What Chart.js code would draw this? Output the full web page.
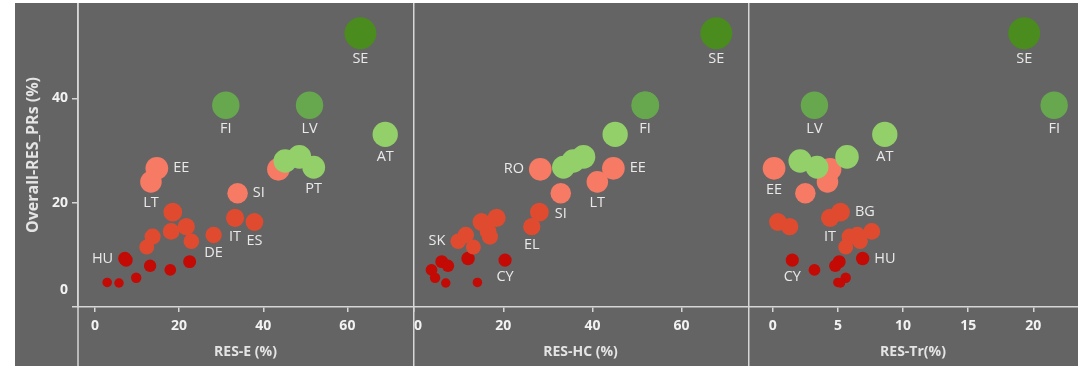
<!DOCTYPE html>
<html>
<head>
<meta charset="utf-8">
<script src="https://cdn.jsdelivr.net/npm/chart.js@4.4.1/dist/chart.umd.min.js"></script>
<style>
  html, body { margin: 0; padding: 0; background: #fff; }
  #wrap { position: relative; width: 1081px; height: 368px; }
  #bg { position: absolute; left: 15px; top: 3px; width: 1063px; height: 363px; background: #646464; }
  .panel { position: absolute; top: 3px; }
  #p1 { left: 15px; }
  #p2 { left: 413px; }
  #p3 { left: 748px; }
</style>
</head>
<body>
<div id="wrap">
  <div id="bg"></div>
  <canvas id="p1" class="panel" width="398" height="363"></canvas>
  <canvas id="p2" class="panel" width="335" height="363"></canvas>
  <canvas id="p3" class="panel" width="330" height="363"></canvas>
</div>
<script>
// Member states, overall RES share and the three sector shares (%)
const codes   = ['SE', 'FI', 'LV', 'AT', 'DK', 'HR', 'PT', 'EE', 'RO', 'LT', 'SI', 'BG', 'IT', 'ES', 'EL', 'FR', 'DE', 'CZ', 'SK', 'PL', 'HU', 'CY', 'IE', 'BE', 'UK', 'NL', 'MT', 'LU'];
const overall = [52.5, 38.7, 38.7, 33.1, 28.8, 28.0, 26.8, 26.6, 26.4, 24.0, 21.8, 18.2, 17.1, 16.3, 15.4, 14.5, 13.8, 13.5, 12.6, 11.5, 9.3, 9.0, 8.7, 7.9, 7.1, 5.6, 4.7, 4.6];
const resE    = [63.1, 31.1, 51.0, 69.0, 48.6, 45.2, 52.0, 14.7, 43.6, 13.3, 33.9, 18.5, 33.3, 37.9, 21.7, 18.1, 28.2, 13.7, 22.9, 12.3, 7.1, 7.4, 22.5, 13.1, 17.9, 9.8, 2.9, 5.7];
const resHC   = [67.8, 51.8, 51.9, 45.1, 38.0, 35.7, 33.5, 44.7, 28.3, 41.1, 32.9, 28.1, 18.5, 15.1, 26.4, 16.6, 11.6, 17.0, 9.9, 13.3, 12.1, 20.4, 6.2, 7.6, 3.9, 4.7, 14.2, 7.1];
const resTr   = [19.3, 21.6, 3.2, 8.6, 5.7, 2.1, 3.4, 0.1, 4.4, 4.2, 2.5, 5.2, 4.4, 0.4, 1.3, 7.6, 6.5, 5.9, 6.7, 5.6, 6.9, 1.5, 5.1, 4.8, 3.2, 5.6, 5.0, 5.2];
// colour class of each country (0 = highest overall share ... 5 = lowest)
const group   = [0, 1, 1, 2, 2, 2, 2, 3, 3, 3, 3, 4, 4, 4, 4, 4, 4, 4, 4, 4, 5, 5, 5, 5, 5, 5, 5, 5];

const xTicksE  = [0, 20, 40, 60];
const xTicksHC = [0, 20, 40, 60];
const xTicksTr = [0, 5, 10, 15, 20];
const yTicks   = [0, 20, 40];

// which countries get a name tag in each panel, and where (b = below, r = right, l = left)
const tagsE  = { SE: 'b', FI: 'b', LV: 'b', AT: 'b', PT: 'b', EE: 'r', LT: 'b', SI: 'r', IT: 'b', ES: 'b', DE: 'b', HU: 'l' };
const tagsHC = { SE: 'b', FI: 'b', RO: 'l', EE: 'r', LT: 'b', SI: 'b', EL: 'b', SK: 'l', CY: 'b' };
const tagsTr = { SE: 'b', LV: 'b', FI: 'b', AT: 'b', EE: 'b', BG: 'r', IT: 'b', HU: 'r', CY: 'b' };

const groupColors = ['#4b8c1e', '#67a84f', '#93d06a', '#f77a64', '#e04b30', '#c40a05'];
const axisColor = '#d6d6d6';
const FONT = 'Open Sans';

Chart.defaults.font.family = FONT;

const countryTags = {
  id: 'countryTags',
  afterDatasetsDraw(chart, args, opts) {
    const { ctx } = chart;
    ctx.save();
    ctx.font = '14.5px "' + FONT + '"';
    ctx.fillStyle = '#e9e9e9';
    ctx.textBaseline = 'middle';
    chart.data.datasets.forEach((ds, di) => {
      chart.getDatasetMeta(di).data.forEach((el, j) => {
        const pos = opts.tags[ds.data[j].code];
        if (!pos) return;
        const r = el.options.radius;
        if (pos === 'b') {
          ctx.textAlign = 'center';
          ctx.fillText(ds.data[j].code, el.x, el.y + r + 10);
        } else if (pos === 'r') {
          ctx.textAlign = 'left';
          ctx.fillText(ds.data[j].code, el.x + r + 5, el.y);
        } else {
          ctx.textAlign = 'right';
          ctx.fillText(ds.data[j].code, el.x - r - 5, el.y);
        }
      });
    });
    ctx.restore();
  }
};

// full-height divider on the left edge of each panel
const divider = {
  id: 'divider',
  afterDraw(chart) {
    const { ctx, chartArea } = chart;
    const x = Math.max(chartArea.left, 0.75);
    ctx.save();
    ctx.strokeStyle = axisColor;
    ctx.lineWidth = 1.5;
    ctx.beginPath();
    ctx.moveTo(x, 0);
    ctx.lineTo(x, chart.height);
    ctx.stroke();
    ctx.restore();
  }
};

function makePanel(id, xs, xMin, xMax, xTicks, title, tags, showY, zeroShift) {
  const datasets = groupColors.map((color, g) => ({
    data: codes
      .map((c, i) => ({ x: xs[i], y: overall[i], code: c }))
      .filter((p, i) => group[i] === g),
    backgroundColor: color,
    borderWidth: 0,
    radius: ctx => 2.2 * Math.sqrt(ctx.raw.y),
    order: g,
  }));

  return new Chart(document.getElementById(id), {
    type: 'bubble',
    data: { datasets },
    plugins: [countryTags, divider],
    options: {
      responsive: false,
      animation: false,
      devicePixelRatio: 1,
      events: [],
      layout: { padding: 0, autoPadding: false },
      plugins: {
        legend: { display: false },
        tooltip: { enabled: false },
        countryTags: { tags },
      },
      scales: {
        x: {
          type: 'linear',
          min: xMin,
          max: xMax,
          afterBuildTicks: s => { s.ticks = xTicks.map(v => ({ value: v })); },
          afterFit: s => { s.height = 59; s.paddingLeft = 0; s.paddingRight = 0; },
          grid: { drawOnChartArea: false, drawTicks: true, tickLength: 5, color: axisColor, lineWidth: 1.5 },
          border: { display: true, color: axisColor, width: 1.5 },
          ticks: {
            color: '#f2f2f2',
            padding: 6,
            maxRotation: 0,
            autoSkip: false,
            font: { size: 14, weight: 'bold' },
            callback: v => (zeroShift && v === 0 ? '\u20070' : String(v)),
          },
          title: {
            display: true,
            text: title,
            color: '#e4e4e4',
            font: { size: 14, weight: 'bold' },
            padding: { top: 0, bottom: 6 },
          },
        },
        y: {
          display: showY,
          min: 0,
          max: 58.3,
          afterBuildTicks: s => { s.ticks = yTicks.map(v => ({ value: v })); },
          afterFit: s => {
            s.width = showY ? 63 : 0;
            s.paddingTop = 0;
            s.paddingBottom = 0;
          },
          grid: { drawOnChartArea: false, drawTicks: true, tickLength: 6, color: axisColor, lineWidth: 1.5 },
          border: { display: true, color: axisColor, width: 1.5 },
          ticks: {
            color: '#f2f2f2',
            padding: 4,
            font: { size: 14, weight: 'bold' },
            callback: v => (v === 0 ? ['0', '', ''] : String(v)),
          },
          title: {
            display: true,
            text: 'Overall-RES_PRs (%)',
            color: '#e4e4e4',
            font: { size: 16, weight: 'bold' },
            padding: { top: 9, bottom: 0 },
          },
        },
      },
    },
  });
}

makePanel('p1', resE, -4.04, 75.6, xTicksE, 'RES-E (%)', tagsE, true, false);
makePanel('p2', resHC, -0.25, 74.9, xTicksHC, 'RES-HC (%)', tagsHC, false, true);
makePanel('p3', resTr, -1.9, 23.43, xTicksTr, 'RES-Tr(%)', tagsTr, false, false);
</script>
</body>
</html>
